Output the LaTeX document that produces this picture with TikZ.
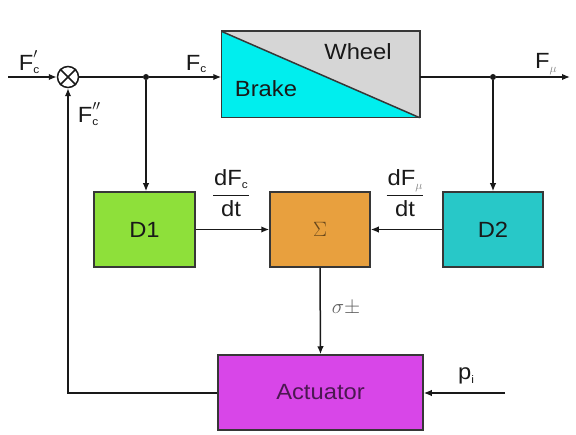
\documentclass[tikz,border=0pt]{standalone}
\usepackage{fontspec}
\setmainfont[FakeStretch=1.08]{Liberation Sans}
\usetikzlibrary{arrows.meta,calc}
\definecolor{brakec}{RGB}{0,238,238}
\definecolor{wheelc}{RGB}{214,214,214}
\definecolor{donec}{RGB}{142,224,58}
\definecolor{sumc}{RGB}{232,160,62}
\definecolor{dtwoc}{RGB}{40,200,200}
\definecolor{actc}{RGB}{216,70,232}
\definecolor{edgec}{RGB}{55,55,55}
\definecolor{inkc}{RGB}{25,25,25}
\newcommand\bigf{\fontsize{22}{26}\selectfont}
\newcommand\subf{\fontsize{11}{13}\selectfont}
\newcommand\muf{\fontsize{13}{15}\selectfont}
\newcommand\Flab[2]{F\rlap{\raisebox{0.45ex}{\bigf #1}}\raisebox{-0.25ex}{\subf #2}}
\begin{document}
\begin{tikzpicture}[x=1pt,y=-1pt,
  blk/.style={draw=edgec,line width=1.5pt,minimum width=#1,minimum height=75,inner sep=0pt,font=\bigf,text=inkc},
  conn/.style={draw=inkc,line width=1.5pt},
  arr/.style={conn,-{Latex[length=8pt,width=6.5pt]}},
  lab/.style={font=\bigf,text=inkc,inner sep=1pt},
  dot/.style={circle,fill=inkc,inner sep=0pt,minimum size=6pt}]
\useasboundingbox (0,0) rectangle (576,435);
% blocks
\node[blk=197,minimum height=85] (bw) at (320.5,74.5) {};
\fill[wheelc] (bw.north west) rectangle (bw.south east);
\fill[brakec] (bw.north west) -- (bw.south west) -- (bw.south east) -- cycle;
\draw[edgec,line width=1.5pt] (bw.north west) rectangle (bw.south east);
\draw[edgec,line width=1.5pt] (bw.north west) -- (bw.south east);
\node[lab] (wheel) at (358,52) {Wheel};
\node[lab] (brake) at (266,89) {Brake};
\node[blk=101,fill=donec] (d1) at (144.5,229.5) {D1};
\node[blk=100,fill=sumc,text=sumc!45!black] (sig) at (320,229.5) {$\Sigma$};
\node[blk=100,fill=dtwoc] (d2) at (493,229.5) {D2};
\node[blk=205,fill=actc,text=actc!35!black] (act) at (320.5,392.5) {Actuator};
% mixer
\node[circle,draw=inkc,line width=1.5pt,minimum size=21pt,inner sep=0pt] (mix) at (68,77) {};
\draw[inkc,line width=1.5pt] (mix.north west) -- (mix.south east) (mix.north east) -- (mix.south west);
% coordinates
\coordinate (in) at (8,77);
\coordinate (out) at (570,77);
\node[dot] (j1) at (146,77) {};
\node[dot] (j2) at (493,77) {};
\coordinate (pin) at (505,393);
\coordinate (fb) at (68,393);
% connectors
\draw[arr] (in) -- (mix.west);
\draw[conn] (mix.east) -- (j1);
\draw[arr] (j1) -- (bw.west |- j1);
\draw[conn] (bw.east |- j2) -- (j2);
\draw[arr] (j2) -- (out);
\draw[arr] (j1) -- (j1 |- d1.north);
\draw[arr] (j2) -- (d2.north);
\draw[arr] (d1.east) -- (sig.west);
\draw[arr] (d2.west) -- (sig.east);
\draw[arr] (sig.south) -- (act.north);
\draw[arr] (act.west |- fb) -- (fb) -- (mix.south);
\draw[arr] (pin) -- (act.east |- pin);
% labels
\node[lab] (lfcp) at (29,62) {\Flab{$'$}{c}};
\node[lab] (lfcpp) at (88,114) {\Flab{$''$}{c}};
\node[lab] (lfc) at (196,64) {F\raisebox{-0.25ex}{\subf c}};
\node[lab] (lfm) at (546,64) {F\raisebox{-0.3ex}{\muf\color{inkc!55}$\mu$}};
\node[lab] (lfr1) at (231,196) {\setlength\arrayrulewidth{1pt}\setlength\tabcolsep{1pt}\begin{tabular}{c}dF\raisebox{-0.25ex}{\subf c}\\[1pt]\hline\rule{0pt}{21pt}dt\end{tabular}};
\node[lab] (lfr2) at (405,196) {\setlength\arrayrulewidth{1pt}\setlength\tabcolsep{1pt}\begin{tabular}{c}dF\raisebox{-0.3ex}{\muf\color{inkc!55}$\mu$}\\[1pt]\hline\rule{0pt}{21pt}dt\end{tabular}};
\node[lab,text=inkc!70] (lsig) at (346,308) {$\sigma\pm$};
\node[lab] (lpi) at (466,376) {p\raisebox{-0.3ex}{\subf i}};
\end{tikzpicture}
\end{document}
